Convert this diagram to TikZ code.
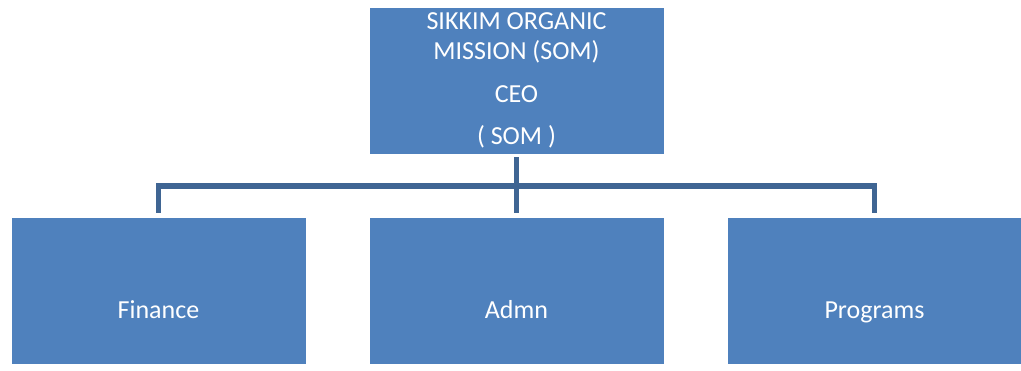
\documentclass[tikz,border=0pt]{standalone}
\usepackage{fontspec}
\setmainfont{Carlito}
\usetikzlibrary{positioning}

\definecolor{boxblue}{HTML}{4F81BD}
\definecolor{lineblue}{HTML}{3F6593}

\tikzset{
  orgbox/.style={rectangle, fill=boxblue, draw=boxblue, text=white,
    minimum width=293pt, minimum height=145pt, inner sep=0pt,
    font=\fontsize{26}{30}\selectfont},
  unitbox/.style={orgbox, text height=57pt, text depth=0pt},
  conn/.style={draw=lineblue, line width=5.5pt}
}

\begin{document}
\begin{tikzpicture} [x=1pt, y=1pt, node distance = 210pt and 358pt, on grid]
    \useasboundingbox (0,0) rectangle (1021,-371);

    \node (som) [orgbox, align=center] at (516.5,-80.5)
        {SIKKIM ORGANIC\\MISSION (SOM)\\[13pt]CEO\\[12pt]( SOM )};
    \node (admn) [unitbox, below = of som] {Admn};
    \node (finance) [unitbox, left = of admn] {Finance};
    \node (programs) [unitbox, right = of admn] {Programs};

    \coordinate (bar) at ([yshift=-33pt]som.south);

    \path[conn] ([yshift=-4pt]som.south) -- ([yshift=5pt]admn.north);
    \path[conn] ([yshift=5pt]finance.north) |- (bar) -| ([yshift=5pt]programs.north);
\end{tikzpicture}
\end{document}
